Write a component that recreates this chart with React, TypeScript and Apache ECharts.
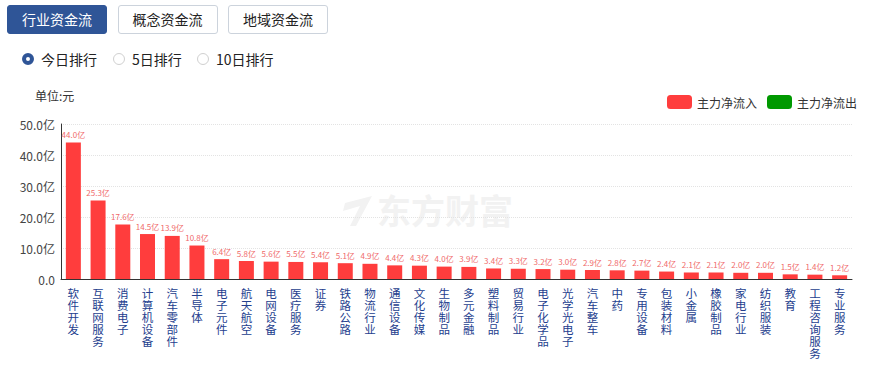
import React, { useEffect, useRef } from "react";
import * as echarts from "echarts";

const categories = ["软件开发","互联网服务","消费电子","计算机设备","汽车零部件","半导体","电子元件","航天航空","电网设备","医疗服务","证券","铁路公路","物流行业","通信设备","文化传媒","生物制品","多元金融","塑料制品","贸易行业","电子化学品","光学光电子","汽车整车","中药","专用设备","包装材料","小金属","橡胶制品","家电行业","纺织服装","教育","工程咨询服务","专业服务"];
const inflowValues = [44.0,25.3,17.6,14.5,13.9,10.8,6.4,5.8,5.6,5.5,5.4,5.1,4.9,4.4,4.3,4.0,3.9,3.4,3.3,3.2,3.0,2.9,2.8,2.7,2.4,2.1,2.1,2.0,2.0,1.5,1.4,1.2];
const outflowValues: number[] = [];
const tabs = ["行业资金流","概念资金流","地域资金流"];
const radios = ["今日排行","5日排行","10日排行"];

const FONT = '"Microsoft YaHei","Noto Sans CJK SC",sans-serif';
const BLUE = "#2f5597";

export default function App() {
  const ref = useRef<HTMLDivElement>(null);
  useEffect(() => {
    const chart = echarts.init(ref.current!, undefined, { renderer: "svg" });
    chart.setOption({
      animation: false,
      textStyle: { fontFamily: FONT },
      grid: { left: 61, right: 17, top: 124, bottom: 87, containLabel: false },
      legend: {
        right: 7, top: 90, itemWidth: 25, itemHeight: 14, itemGap: 10,
        icon: "roundRect",
        textStyle: { fontSize: 12, color: "#333", fontFamily: FONT },
        data: ["主力净流入","主力净流出"],
      },
      graphic: [
        { type: "text", left: 35, top: 89, style: { text: "单位:元", fontSize: 12, fill: "#333", fontFamily: FONT } },
        { type: "text", left: 377, top: 192, z: 0, style: { text: "东方财富", fontSize: 34, fontWeight: "bold", fill: "#f2f2f2", fontFamily: FONT } },
        { type: "polygon", z: 0, shape: { points: [[345,203],[372,196],[356,226],[350,226],[360,206],[343,211]] }, style: { fill: "#f2f2f2" } },
      ],
      xAxis: {
        type: "category", data: categories,
        axisLine: { lineStyle: { color: "#333", width: 1 } },
        axisTick: { show: false },
        axisLabel: {
          interval: 0, margin: 8, fontSize: 11.5, lineHeight: 12, color: "#24408e", fontFamily: FONT,
          verticalAlign: "top",
          formatter: (v: string) => v.split("").join("\n"),
        },
      },
      yAxis: {
        type: "value", min: 0, max: 50, interval: 10,
        axisLine: { show: true, lineStyle: { color: "#333" } },
        axisTick: { show: false },
        splitLine: { lineStyle: { color: "#e3e3e3", type: "dotted" } },
        axisLabel: {
          fontSize: 12, color: "#444", margin: 6, fontFamily: FONT,
          formatter: (v: number) => (v === 0 ? "0.0" : v.toFixed(1) + "亿"),
        },
      },
      series: [
        {
          name: "主力净流入", type: "bar", stack: "a", data: inflowValues, barWidth: 15,
          itemStyle: { color: "#ff3d3d" },
          label: { show: true, position: "top", distance: 4, fontSize: 8, color: "#f06a6a", fontFamily: FONT,
            formatter: (p: any) => p.value.toFixed(1) + "亿" },
        },
        { name: "主力净流出", type: "bar", stack: "a", data: outflowValues, barWidth: 15, itemStyle: { color: "#009900" } },
      ],
    });
    return () => chart.dispose();
  }, []);

  return (
    <div style={{ position: "absolute", left: 0, top: 0, width: 869, height: 366, fontFamily: FONT, background: "#fff" }}>
      {tabs.map((t, i) => (
        <div key={t} style={{
          position: "absolute", left: 7 + i * 110.5, top: 5, width: 100, height: 29, boxSizing: "border-box",
          border: i === 0 ? `1px solid ${BLUE}` : "1px solid #ccd3dc", borderRadius: 3,
          background: i === 0 ? BLUE : "#fff", color: i === 0 ? "#fff" : "#222",
          fontSize: 14, lineHeight: "27px", textAlign: "center",
        }}>{t}</div>
      ))}
      {radios.map((r, i) => {
        const x = [22, 113, 197][i];
        return (
          <div key={r} style={{ position: "absolute", left: x, top: 49, height: 20, display: "flex", alignItems: "center", fontSize: 14, color: "#222" }}>
            <span style={{
              display: "inline-block", width: 12, height: 12, boxSizing: "border-box", borderRadius: "50%",
              border: i === 0 ? `4px solid ${BLUE}` : "1px solid #d0d0d0", background: "#fff", marginRight: 7,
            }} />
            {r}
          </div>
        );
      })}
      <div ref={ref} style={{ position: "absolute", left: 0, top: 0, width: 869, height: 366 }} />
    </div>
  );
}
